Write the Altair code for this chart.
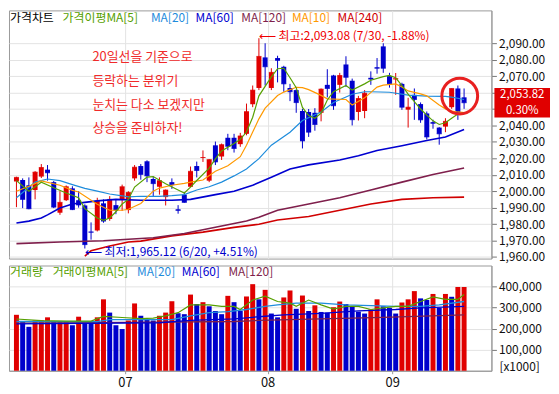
import altair as alt
import pandas as pd

# ---------------- data ----------------
idx = list(range(73))
opens = [2005.9, 2006.8, 2003.6, 2000.7, 2008.9, 2013.1, 2005.5, 1986.9, 1994.5, 2001.7,
         1994.5, 1991.3, 1975.4, 1976.1, 1992.6, 1983.1, 1991.5, 1995.0, 1988.5, 2007.8,
         2015.3, 2018.2, 2007.4, 2002.7, 1996.4, 2005.5, 1989.0, 1997.9, 2002.7, 2015.3,
         2020.2, 2006.4, 2027.9, 2021.1, 2032.5, 2032.5, 2028.6, 2034.9, 2052.9, 2062.8,
         2081.4, 2062.8, 2081.0, 2075.7, 2062.8, 2061.5, 2048.8, 2048.2, 2047.7, 2047.7,
         2064.7, 2070.4, 2064.7, 2077.1, 2067.2, 2048.2, 2048.8, 2069.0, 2075.4, 2088.1,
         2070.0, 2068.0, 2065.3, 2049.6, 2058.6, 2053.0, 2047.3, 2042.0, 2038.7, 2039.3,
         2051.1, 2062.5, 2057.1]
highs = [2008.8, 2007.8, 2008.4, 2012.2, 2016.5, 2015.9, 2006.2, 2000.0, 2003.5, 2003.0,
         2000.0, 1992.0, 1981.0, 1996.0, 1995.0, 1997.0, 1995.0, 2004.0, 2000.0, 2015.9,
         2016.5, 2018.8, 2008.9, 2008.4, 2001.0, 2007.8, 1991.5, 1999.0, 2015.0, 2018.0,
         2024.8, 2019.5, 2030.2, 2029.0, 2034.9, 2034.9, 2035.5, 2053.3, 2064.3, 2093.08,
         2090.0, 2074.8, 2082.4, 2076.3, 2065.3, 2062.0, 2050.1, 2050.0, 2050.5, 2062.5,
         2074.2, 2070.8, 2072.0, 2082.1, 2068.5, 2058.0, 2061.5, 2072.9, 2081.0, 2090.0,
         2072.0, 2071.9, 2066.0, 2056.8, 2062.5, 2054.0, 2048.5, 2043.5, 2039.0, 2044.4,
         2062.5, 2064.3, 2062.5]
lows = [1990.3, 1989.7, 1989.0, 1995.0, 2008.0, 2006.4, 1989.7, 1985.6, 1994.0, 1988.5,
        1990.0, 1965.12, 1970.5, 1975.5, 1980.8, 1982.0, 1986.0, 1988.0, 1986.5, 2006.4,
        2007.0, 2005.5, 1997.0, 1997.9, 1991.3, 2001.4, 1986.3, 1993.0, 2002.5, 2008.4,
        2017.8, 2005.5, 2015.9, 2019.0, 2024.9, 2023.5, 2027.0, 2034.0, 2051.1, 2061.5,
        2064.3, 2061.5, 2066.2, 2060.5, 2054.8, 2047.7, 2026.0, 2033.0, 2036.8, 2042.5,
        2057.1, 2049.5, 2060.0, 2063.4, 2040.0, 2043.0, 2044.4, 2064.7, 2071.5, 2072.0,
        2063.0, 2058.6, 2049.5, 2038.7, 2043.4, 2041.6, 2031.5, 2038.0, 2028.3, 2035.9,
        2050.1, 2043.4, 2050.1]
closes = [2008.4, 1995.0, 1989.3, 2011.6, 2014.4, 2011.2, 1990.3, 1993.2, 2002.7, 1988.8,
          1991.6, 1967.5, 1975.0, 1994.1, 1981.8, 1995.0, 1988.5, 2002.7, 1999.2, 2014.6,
          2010.2, 2009.3, 2004.6, 2006.4, 2000.7, 2004.0, 1988.3, 1993.2, 2012.1, 2012.6,
          2020.5, 2019.2, 2017.8, 2028.3, 2027.3, 2026.0, 2033.6, 2048.4, 2061.5, 2082.0,
          2075.7, 2072.3, 2079.6, 2065.3, 2060.5, 2053.9, 2030.6, 2035.9, 2040.6, 2062.1,
          2062.5, 2052.0, 2070.4, 2069.3, 2043.5, 2056.4, 2059.6, 2068.2, 2074.8, 2074.8,
          2065.3, 2068.5, 2051.1, 2051.1, 2055.8, 2043.4, 2033.0, 2041.3, 2034.9, 2042.5,
          2062.5, 2047.7, 2053.82]

vols = [265800, 231200, 208700, 238700, 240000, 253800, 231200, 232000, 234000, 216200,
        256800, 231200, 230000, 253800, 339300, 276300, 216200, 198200, 238700, 319800,
        261300, 243200, 238700, 261300, 276300, 330300, 273300, 268800, 361900, 316800,
        325800, 306300, 283800, 268800, 355900, 325800, 283800, 352900, 411400, 339300,
        384400, 271800, 253800, 348300, 381400, 294300, 357400, 283800, 310800, 279300,
        276300, 301800, 328800, 316800, 306300, 280800, 271800, 291300, 339300, 306300,
        298800, 271800, 324300, 339300, 378400, 343800, 336300, 364900, 298800, 364900,
        351400, 397900, 397900]
vol_dir = ["up", "down", "down", "up", "up", "up", "down", "up", "up", "down",
           "up", "down", "down", "up", "up", "down", "down", "down", "up", "up",
           "down", "down", "down", "up", "up", "up", "down", "down", "up", "down",
           "up", "down", "down", "down", "up", "down", "down", "up", "up", "down",
           "up", "down", "down", "up", "up", "down", "up", "down", "up", "down",
           "down", "up", "up", "down", "down", "down", "down", "up", "up", "down",
           "down", "down", "up", "up", "up", "down", "down", "up", "down", "up",
           "down", "up", "up"]

# price moving averages (index, value)
ma5_i = [0, 2, 4, 6, 8, 10, 11, 13, 14, 15, 16, 17, 18, 19, 21, 22, 24, 26, 27, 28, 29, 31, 32, 33,
         35, 36, 37, 38, 39, 41, 42, 43, 44, 45, 46, 47, 48, 49, 50, 51, 53, 54, 56, 57, 59, 60,
         61, 62, 63, 65, 66, 67, 68, 69, 70, 71, 72]
ma5_v = [2006.4, 2000.0, 2005.5, 2002.1, 1998.9, 1996.0, 1989.4, 1983.7, 1982.3, 1983.7, 1987.5,
         1992.2, 1995.0, 2002.5, 2008.6, 2008.9, 2004.5, 2000.7, 1998.9, 2002.5, 2006.5, 2014.0,
         2019.7, 2024.5, 2029.0, 2031.5, 2036.0, 2045.0, 2058.0, 2069.5, 2074.5, 2074.8, 2069.0,
         2063.0, 2051.0, 2046.0, 2044.4, 2047.5, 2055.5, 2060.5, 2064.3, 2061.5, 2065.3, 2067.5,
         2069.7, 2070.4, 2069.0, 2064.3, 2059.0, 2050.0, 2046.3, 2042.8, 2040.6, 2041.6, 2044.4,
         2046.9, 2047.7]
ma10_i = [0, 2, 4, 7, 9, 10, 13, 15, 17, 18, 20, 22, 23, 25, 27, 28, 30, 32, 34, 36, 37, 38, 39,
          40, 42, 43, 45, 46, 47, 49, 50, 53, 54, 56, 58, 59, 61, 62, 63, 65, 66, 68, 69, 70, 71, 72]
ma10_v = [2000.0, 2003.0, 2006.2, 2003.6, 2000.5, 1999.5, 1992.0, 1988.4, 1988.4, 1989.0, 1992.5,
          2000.0, 2001.9, 2003.6, 2004.8, 2005.5, 2006.8, 2012.1, 2015.5, 2021.0, 2028.0, 2036.0,
          2044.0, 2050.5, 2058.2, 2060.3, 2063.2, 2063.0, 2061.8, 2058.3, 2056.2, 2055.8, 2052.5,
          2056.8, 2063.3, 2064.5, 2065.3, 2063.4, 2061.0, 2059.2, 2058.0, 2052.5, 2050.1, 2048.8,
          2048.2, 2047.8]
ma20_i = [0, 3, 5, 7, 9, 11, 13, 15, 17, 18, 20, 23, 25, 27, 29, 31, 33, 35, 37, 39, 41, 44, 46,
          49, 51, 54, 56, 57, 60, 63, 66, 69, 70, 72]
ma20_v = [1996.0, 2005.5, 2007.4, 2006.4, 2004.0, 2001.7, 2000.0, 1998.3, 1997.2, 1996.5, 1996.9,
          1996.9, 1997.3, 1997.9, 2000.7, 2002.7, 2005.5, 2009.3, 2013.5, 2019.8, 2028.0, 2035.9,
          2043.0, 2048.2, 2054.0, 2059.0, 2060.5, 2060.5, 2060.2, 2058.5, 2057.8, 2057.7, 2057.2,
          2055.8]
ma60_i = [0, 2, 4, 5, 7, 9, 11, 13, 16, 20, 25, 28, 32, 35, 38, 41, 44, 47, 52, 55, 58, 62, 66, 69, 72]
ma60_v = [1980.6, 1981.8, 1983.7, 1985.6, 1989.8, 1992.2, 1993.2, 1994.1, 1995.0, 1994.5, 1994.5,
          1995.0, 1997.9, 2000.0, 2003.6, 2008.5, 2013.5, 2016.0, 2019.0, 2021.5, 2024.7, 2027.7,
          2030.8, 2033.0, 2037.5]
ma120_i = [0, 7, 14, 18, 22, 27, 32, 37, 39, 42, 47, 52, 57, 62, 67, 72]
ma120_v = [1968.1, 1969.1, 1969.8, 1970.8, 1971.7, 1974.2, 1978.0, 1981.8, 1984.2, 1988.4, 1992.2,
           1996.0, 2000.7, 2005.5, 2010.2, 2014.1]
ma240_i = [11, 12, 15, 18, 20, 25, 30, 35, 39, 42, 47, 52, 57, 62, 67, 72]
ma240_v = [1960.5, 1963.7, 1966.6, 1969.1, 1969.6, 1972.8, 1975.1, 1978.0, 1979.9, 1982.5, 1984.6,
           1988.4, 1992.2, 1995.0, 1996.0, 1996.4]

# volume moving averages
vma5_i = [0, 4, 8, 12, 14, 17, 20, 22, 24, 26, 28, 31, 33, 35, 36, 38, 40, 42, 44, 45, 47, 49, 51,
          53, 55, 57, 59, 61, 63, 65, 67, 69, 71, 72]
vma5_v = [246000, 238000, 236000, 236000, 258000, 253000, 248000, 250000, 261000, 276000, 313000,
          313000, 306000, 306000, 291000, 336000, 354000, 329000, 321000, 306000, 336000, 313000,
          293000, 306000, 306000, 291000, 299000, 306000, 306000, 329000, 351000, 339000, 339000,
          362000]
vma20_i = [0, 13, 15, 25, 28, 31, 34, 37, 40, 42, 45, 49, 53, 57, 61, 65, 68, 72]
vma20_v = [234000, 233000, 243000, 243000, 261000, 276000, 281000, 291000, 306000, 313000, 321000,
           321000, 313000, 309000, 306000, 306000, 313000, 329000]
vma60_i = [0, 23, 28, 35, 38, 40, 43, 49, 55, 61, 65, 72]
vma60_v = [223000, 228000, 239000, 246000, 254000, 259000, 265000, 273000, 284000, 291000, 299000,
           306000]
vma120_i = [0, 23, 35, 39, 49, 59, 72]
vma120_v = [226000, 231000, 234000, 239000, 246000, 254000, 265000]

month_pos = [17.45, 40.4, 60.45]
month_labels = ["07", "08", "09"]
price_ticks = [1960, 1970, 1980, 1990, 2000, 2010, 2020, 2030, 2040, 2050, 2060, 2070, 2080, 2090]
vol_ticks = [100000, 200000, 300000, 400000]

high_date = "7/30"
low_date = "6/20"
comment_lines = ["20일선을 기준으로", "등락하는 분위기", "눈치는 다소 보겠지만", "상승을 준비하자!"]

# ---------------- styles ----------------
FONT = "Noto Sans CJK KR"
RED = "#E00000"
BLUE = "#0000CC"
GREEN = "#56A000"
ORANGE = "#FF9900"
LBLUE = "#1E8CDC"
MBLUE = "#0000D0"
MAROON = "#7F1F4C"
RED240 = "#D00000"
GRID = "#e3e3e3"

W = 486
HP = 250
HV = 106

last = closes[-1]

xs = alt.Scale(domain=[-0.4, 75.6], nice=False, zero=False)
ys = alt.Scale(domain=[1959, 2110], nice=False, zero=False)
vs = alt.Scale(domain=[0, 500000], nice=False, zero=True)
cscale = alt.Scale(domain=["up", "down"], range=[RED, BLUE])

x_axis_price = alt.Axis(values=month_pos, labels=False, ticks=False, domain=False, grid=True,
                        gridColor=GRID, title=None, minExtent=0, maxExtent=0)
# labels hidden behind the current-price box are left blank
y_axis_price = alt.Axis(orient="right", values=price_ticks, grid=True,
                        labelExpr=f"abs(datum.value - {last}) < 11 ? '' : format(datum.value, ',.2f')",
                        gridColor=GRID, tickColor="#777", tickSize=5, domainColor="#999",
                        labelFontSize=12, labelFont=FONT, labelColor="#111", title=None,
                        labelPadding=2, labelOverlap=False, labelBound=False, labelFlush=False,
                        labelSeparation=0)

thr = [(month_pos[k] + month_pos[k + 1]) / 2 for k in range(len(month_pos) - 1)]
expr = f"'{month_labels[-1]}'"
for k in range(len(thr) - 1, -1, -1):
    expr = f"datum.value < {thr[k]} ? '{month_labels[k]}' : ({expr})"

x_axis_vol = alt.Axis(values=month_pos, labelExpr=expr, grid=True, gridColor=GRID, ticks=True,
                      tickSize=3, tickColor="#999", domainColor="#999", labelFontSize=13,
                      labelFont=FONT, labelColor="#111", labelPadding=3, title=None,
                      labelOverlap=False)
y_axis_vol = alt.Axis(orient="right", values=vol_ticks, format=",d", grid=True, gridColor=GRID,
                      tickColor="#777", tickSize=5, domainColor="#999", labelFontSize=12,
                      labelFont=FONT, labelColor="#111", title=None, labelPadding=2,
                      labelOverlap=False, labelBound=False, labelFlush=False, labelSeparation=0)


def PX(field):
    return alt.X(field, scale=xs, axis=x_axis_price)


def PY(field):
    return alt.Y(field, scale=ys, axis=y_axis_price)


# ---------------- price panel ----------------
candles = pd.DataFrame({"idx": idx, "open": opens, "high": highs, "low": lows, "close": closes})
candles["dir"] = ["up" if c >= o else "down" for o, c in zip(opens, closes)]

wick = alt.Chart(candles).mark_rule(strokeWidth=1).encode(
    x=PX("idx:Q"), y=PY("low:Q"), y2="high:Q",
    color=alt.Color("dir:N", scale=cscale, legend=None),
)
body = alt.Chart(candles).mark_bar(size=5).encode(
    x=PX("idx:Q"), y=PY("open:Q"), y2="close:Q",
    color=alt.Color("dir:N", scale=cscale, legend=None),
)
cross = alt.Chart(candles).mark_tick(size=5, thickness=1, orient="horizontal").encode(
    x=PX("idx:Q"), y=PY("close:Q"),
    color=alt.Color("dir:N", scale=cscale, legend=None),
)


def ma_line(ii, vv, color, width, scale, xaxis, yaxis):
    df = pd.DataFrame({"i": ii, "v": vv})
    return alt.Chart(df).mark_line(color=color, strokeWidth=width, clip=True).encode(
        x=alt.X("i:Q", scale=xs, axis=xaxis), y=alt.Y("v:Q", scale=scale, axis=yaxis), order="i:Q")


def pline(ii, vv, color, width):
    return ma_line(ii, vv, color, width, ys, x_axis_price, y_axis_price)


def vline(ii, vv, color, width):
    return ma_line(ii, vv, color, width, vs, x_axis_vol, y_axis_vol)


price_lines = [
    pline(ma240_i, ma240_v, RED240, 1.6),
    pline(ma120_i, ma120_v, MAROON, 1.6),
    pline(ma60_i, ma60_v, MBLUE, 1.6),
    pline(ma20_i, ma20_v, LBLUE, 1.2),
    pline(ma10_i, ma10_v, ORANGE, 1.2),
    pline(ma5_i, ma5_v, GREEN, 1.2),
]


def label(text, x, y, color, size=12, align="left"):
    return alt.Chart(pd.DataFrame({"t": [text]})).mark_text(
        font=FONT, fontSize=size, color=color, align=align, baseline="middle").encode(
        x=alt.value(x), y=alt.value(y), text="t:N")


legend_price = [
    label("가격차트", 1, 8, "#000000"),
    label("가격이평MA[5]", 54, 8, GREEN),
    label("MA[20]", 143, 8, LBLUE),
    label("MA[60]", 188, 8, MBLUE),
    label("MA[120]", 234, 8, MAROON),
    label("MA[10]", 285, 8, ORANGE),
    label("MA[240]", 331, 8, RED240),
]

hi_i = highs.index(max(highs))
lo_i = lows.index(min(lows))
hi_txt = f"⟵ 최고:{max(highs):,.2f} ({high_date}, {(last / max(highs) - 1) * 100:.2f}%)"
lo_txt = f"⟵ 최저:{min(lows):,.2f} ({low_date}, {(last / min(lows) - 1) * 100:+.2f}%)"

hi_ann = alt.Chart(pd.DataFrame({"i": [hi_i], "p": [max(highs)], "t": [hi_txt]})).mark_text(
    font=FONT, fontSize=12, color="#F00000", align="left", baseline="middle", dx=0, dy=-2).encode(
    x=PX("i:Q"), y=PY("p:Q"), text="t:N")
lo_ann = alt.Chart(pd.DataFrame({"i": [lo_i], "p": [min(lows)], "t": [lo_txt]})).mark_text(
    font=FONT, fontSize=12, color=BLUE, align="left", baseline="middle", dx=0, dy=4).encode(
    x=PX("i:Q"), y=PY("p:Q"), text="t:N")

comment = alt.Chart(pd.DataFrame({"a": [0]})).mark_text(
    text=comment_lines, font=FONT, fontSize=13, color="#F02A2A", align="left",
    baseline="top", lineHeight=24).encode(x=alt.value(84), y=alt.value(41))

ring_df = pd.DataFrame({"i": [sum(idx[-3:]) / 3 + 0.3], "p": [sum(closes[-3:]) / 3 + 3.2]})
ring = alt.Chart(ring_df).mark_point(shape="circle", size=1300, strokeWidth=3, color="#E82020",
                                     filled=False, opacity=1).encode(
    x=PX("i:Q"), y=PY("p:Q"))

chg = (closes[-1] / closes[-2] - 1) * 100
box_df = pd.DataFrame({"p": [last], "a": [f"{last:,.2f}"], "b": [f"{chg:.2f}%"]})
box = alt.Chart(box_df).mark_point(shape="M-1,-0.53H1V0.53H-1Z", size=56 * 56, filled=True,
                                   color=RED, opacity=1, strokeWidth=0).encode(
    x=alt.value(W + 31), y=PY("p:Q"))
box_t1 = alt.Chart(box_df).mark_text(font=FONT, fontSize=11.5, color="white", align="center",
                                     baseline="middle", dy=-7.5).encode(
    x=alt.value(W + 31), y=PY("p:Q"), text="a:N")
box_t2 = alt.Chart(box_df).mark_text(font=FONT, fontSize=11.5, color="white", align="center",
                                     baseline="middle", dy=8).encode(
    x=alt.value(W + 31), y=PY("p:Q"), text="b:N")

price = alt.layer(wick, body, cross, *price_lines, *legend_price, hi_ann, lo_ann, comment, ring,
                  box, box_t1, box_t2).properties(width=W, height=HP)

# ---------------- volume panel ----------------
vdf = pd.DataFrame({"idx": idx, "vol": vols, "dir": vol_dir})
vbars = alt.Chart(vdf).mark_bar(size=5).encode(
    x=alt.X("idx:Q", scale=xs, axis=x_axis_vol),
    y=alt.Y("vol:Q", scale=vs, axis=y_axis_vol),
    color=alt.Color("dir:N", scale=cscale, legend=None),
)
vol_lines = [
    vline(vma120_i, vma120_v, MAROON, 1.3),
    vline(vma60_i, vma60_v, MBLUE, 1.3),
    vline(vma20_i, vma20_v, LBLUE, 1.3),
    vline(vma5_i, vma5_v, GREEN, 1.2),
]
legend_vol = [
    label("거래량", 1, 7, GREEN),
    label("거래이평MA[5]", 44, 7, GREEN),
    label("MA[20]", 129, 7, LBLUE),
    label("MA[60]", 174, 7, MBLUE),
    label("MA[120]", 221, 7, MAROON),
    label("[x1000]", W + 8, HV - 4, "#111"),
]
volume = alt.layer(vbars, *vol_lines, *legend_vol).properties(width=W, height=HV)

chart = alt.vconcat(price, volume, spacing=1).properties(
    padding={"left": 0, "top": 0, "right": 0, "bottom": 0}
).configure_view(stroke="#9a9a9a", strokeWidth=1).configure_axis(
    labelOverlap=False, labelBound=False, labelFlush=False
)

chart.save("out.html", embed_options={"renderer": "svg", "actions": False})
